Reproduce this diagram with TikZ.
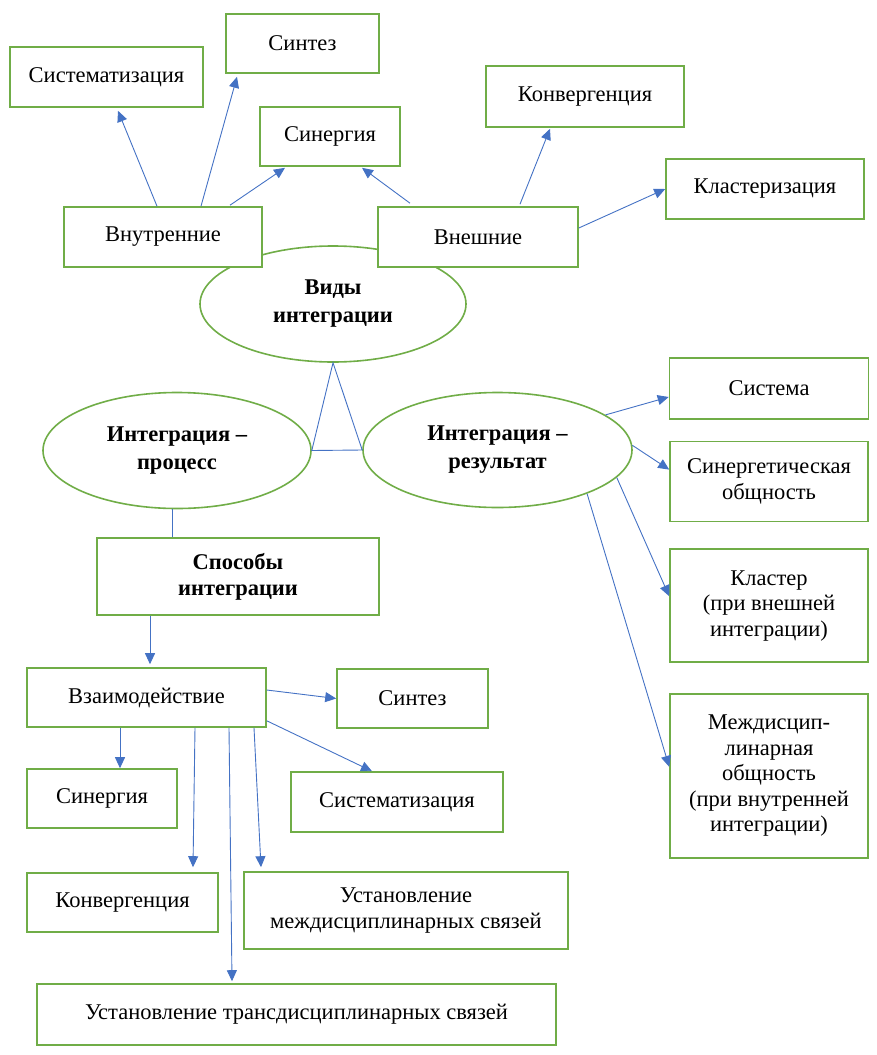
\documentclass[tikz,border=0pt]{standalone}
\usepackage{fontspec}
\setmainfont{Liberation Serif}
\usetikzlibrary{arrows.meta}
\usetikzlibrary{positioning}
\usetikzlibrary{shapes.geometric}

\definecolor{boxgreen}{HTML}{70AD47}
\definecolor{linkblue}{HTML}{4472C4}

\begin{document}
\begin{tikzpicture}[x=1pt,y=-1pt,
    box/.style={draw=boxgreen, line width=1.6pt, fill=white, align=center, inner sep=2pt, font=\fontsize{22.5}{25.5}\selectfont},
    boldbox/.style={box, font=\fontsize{22.5}{26}\selectfont\bfseries},
    oval/.style={ellipse, draw=boxgreen, line width=1.6pt, fill=white, align=center, inner sep=0pt, font=\fontsize{22.5}{28}\selectfont\bfseries},
    link/.style={draw=linkblue, line width=0.9pt},
    arr/.style={link, -{Triangle[length=11pt,width=10pt]}}]
    \useasboundingbox (0,0) rectangle (877,1055);

    % Виды интеграции
    \node (vidy) [oval, minimum width=266pt, minimum height=116pt] at (333,304) {Виды\\интеграции};

    \node (vnutr) [box, minimum width=198pt, minimum height=60pt] at (163,237) {Внутренние};
    \node (vnesh) [box, minimum width=200pt, minimum height=60pt] at (478,237) {Внешние};
    \node (sysT) [box, minimum width=193pt, minimum height=60pt] at (106.5,77) {Систематизация};
    \node (sinT) [box, minimum width=153pt, minimum height=59pt] at (302.5,43.5) {Синтез};
    \node (synT) [box, minimum width=140pt, minimum height=59pt] at (330,136.5) {Синергия};
    \node (konvT) [box, minimum width=198pt, minimum height=61pt] at (585,96.5) {Конвергенция};
    \node (klastT) [box, minimum width=198pt, minimum height=60pt] at (765,189) {Кластеризация};

    \path ([xshift=-6pt]vnutr.north) edge [arr] ([xshift=11.5pt,yshift=-3pt]sysT.south);
    \path ([xshift=38pt]vnutr.north) edge [arr] ([xshift=-65.5pt,yshift=-3pt]sinT.south);
    \path ([xshift=67pt,yshift=1pt]vnutr.north) edge [arr] ([xshift=-45pt,yshift=-1pt]synT.south);
    \path ([xshift=-68pt,yshift=3pt]vnesh.north) edge [arr] ([xshift=32pt,yshift=-1pt]synT.south);
    \path ([xshift=42pt,yshift=2pt]vnesh.north) edge [arr] ([xshift=-35pt,yshift=-1pt]konvT.south);
    \path ([yshift=9pt]vnesh.east) edge [arr] (klastT.west);

    % процесс и результат
    \node (process) [oval, minimum width=268pt, minimum height=116pt] at (177,450.5) {Интеграция –\\процесс};
    \node (result) [oval, minimum width=269pt, minimum height=115pt] at (497.5,450) {Интеграция –\\результат};
    \draw [link] (vidy.south) -- (process.east) -- (result.west) -- cycle;

    \node (sistema) [box, minimum width=199pt, minimum height=61pt] at (769,388.5) {Система};
    \node (synObsch) [box, minimum width=198pt, minimum height=80pt, below=21pt of sistema] {Синергетическая\\общность};
    \node (klaster) [box, minimum width=198pt, minimum height=113pt, below=26pt of synObsch] {Кластер\\(при внешней\\интеграции)};
    \node (mezhObsch) [box, minimum width=198pt, minimum height=164pt, below=30pt of klaster] {Междисцип-\\линарная\\общность\\(при внутренней\\интеграции)};

    \path (result.18) edge [arr] ([yshift=-8.5pt]sistema.west);
    \path (result.2) edge [arr] ([yshift=12pt]synObsch.west);
    \path (result.-13) edge [arr] ([yshift=9.5pt]klaster.west);
    \path (result.-26) edge [arr] ([yshift=9pt]mezhObsch.west);

    % способы
    \node (sposoby) [boldbox, minimum width=282pt, minimum height=77pt] at (238,576.5) {Способы\\интеграции};
    \draw [link] ([xshift=-5pt]process.south) -- ([xshift=-66pt]sposoby.north);

    \node (vzaim) [box, minimum width=239pt, minimum height=59pt] at (146.5,697.5) {Взаимодействие};
    \node (sinB) [box, minimum width=151pt, minimum height=59pt] at (412.5,698.5) {Синтез};
    \node (synB) [box, minimum width=150pt, minimum height=59pt] at (102,798.5) {Синергия};
    \node (sysB) [box, minimum width=212pt, minimum height=60pt] at (397,802) {Систематизация};
    \node (konvB) [box, minimum width=191pt, minimum height=59pt] at (122.5,902.5) {Конвергенция};
    \node (mezhB) [box, minimum width=324pt, minimum height=77pt] at (406,910.5) {Установление\\междисциплинарных связей};
    \node (trans) [box, minimum width=519pt, minimum height=61pt] at (296.5,1014.5) {Установление трансдисциплинарных связей};

    \path ([xshift=-88pt]sposoby.south) edge [arr] ([xshift=3.5pt,yshift=3pt]vzaim.north);
    \path ([yshift=7.5pt]vzaim.east) edge [arr] (sinB.west);
    \path ([yshift=7pt]vzaim.south east) edge [arr] ([xshift=-25pt]sysB.north);
    \path ([xshift=-26.5pt]vzaim.south) edge [arr] ([xshift=18pt]synB.north);
    \path ([xshift=48.5pt]vzaim.south) edge [arr] ([xshift=70.5pt,yshift=5pt]konvB.north);
    \path ([xshift=82.5pt]vzaim.south) edge [arr] ([xshift=-64.5pt,yshift=2pt]trans.north);
    \path ([xshift=107.5pt]vzaim.south) edge [arr] ([xshift=-145pt,yshift=4pt]mezhB.north);
\end{tikzpicture}
\end{document}
